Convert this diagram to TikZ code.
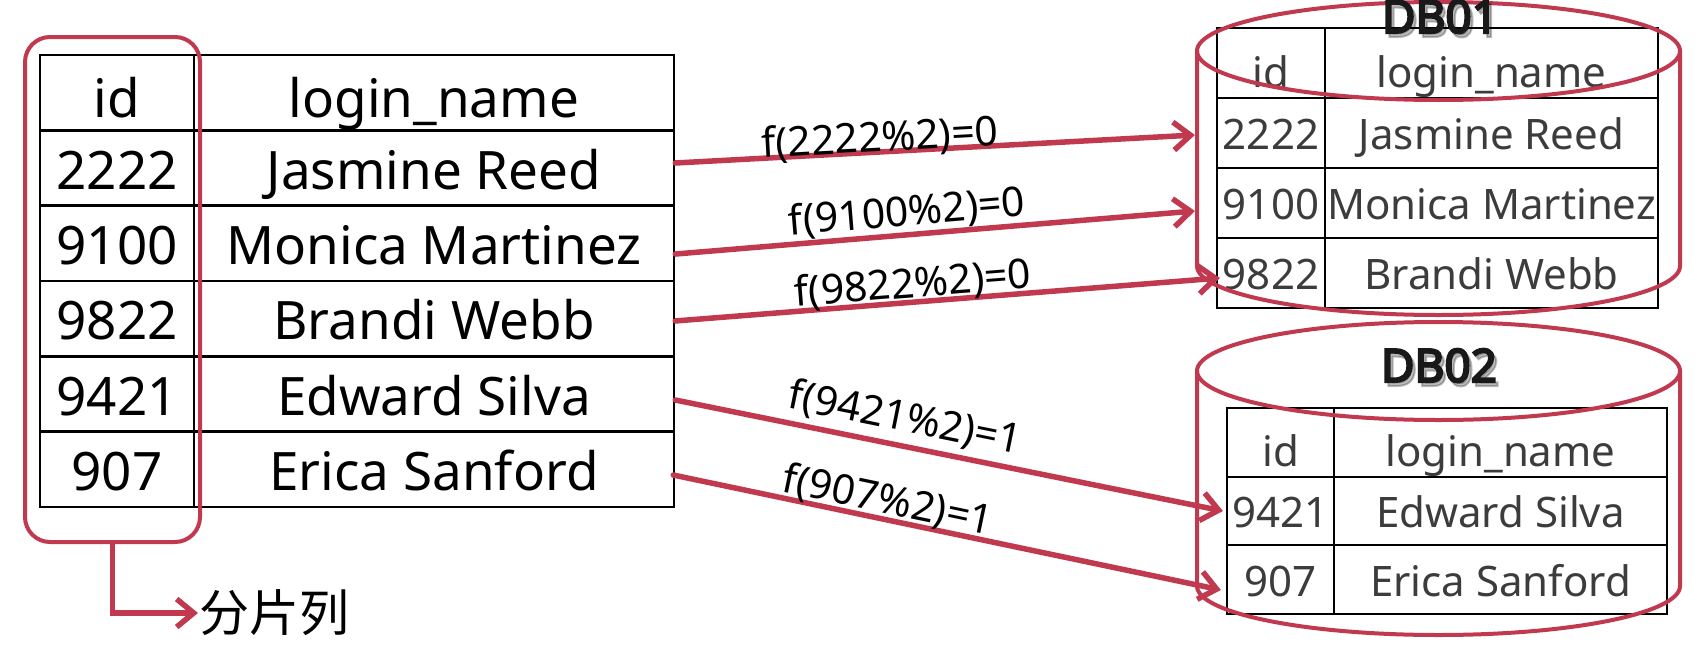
\documentclass[tikz,border=0pt]{standalone}
\usepackage{fontspec}
\setmainfont{Noto Sans}
\newfontfamily\cjk{Noto Sans CJK SC}
\newfontfamily\dbfont{Noto Sans}[FakeBold=4.5]
\usetikzlibrary{arrows.meta}
\definecolor{shardpink}{RGB}{192,57,79}
\definecolor{dbtext}{RGB}{60,60,60}
\begin{document}
\begin{tikzpicture}[x=1pt,y=-1pt,
  tcell/.style={draw=black,line width=2.5pt,inner sep=0pt,text depth=0pt,font=\fontsize{53}{60}\selectfont,minimum height=75.33pt},
  lhead/.style={tcell,text height=50pt},
  lrow/.style={tcell,text height=42pt},
  dcell/.style={draw=black,line width=2.2pt,inner sep=0pt,text depth=0pt,text=dbtext,font=\fontsize{42}{48}\selectfont},
  dhead/.style={dcell,text height=48pt,minimum height=70pt},
  drow/.style={dcell,text height=33pt,minimum height=70pt},
  ehead/.style={dcell,text height=48pt,minimum height=68.67pt},
  erow/.style={dcell,text height=33pt,minimum height=68.67pt},
  pinkline/.style={draw=shardpink,line width=4pt},
  conn/.style={draw=shardpink,line width=5.5pt,line cap=round,-{Straight Barb[length=17pt,width=28pt]}},
  flabel/.style={font=\fontsize{41}{48}\selectfont,inner sep=0pt},
  dbtitle/.style={font=\dbfont\fontsize{46}{52}\selectfont,text=black!90,anchor=base,inner sep=0pt},
  dbshadow/.style={dbtitle,text=black,opacity=0.25},
]
\useasboundingbox (0,0) rectangle (1708,645);
\fill[white] (0,0) rectangle (1708,645);

% left table
\node[lhead,minimum width=154pt] (lid0) at (117,92.67) {id};
\node[lhead,minimum width=480pt] (lnm0) at (434,92.67) {login\_name};
\node[lrow,minimum width=154pt] (lid1) at (117,168) {2222};
\node[lrow,minimum width=480pt] (lnm1) at (434,168) {Jasmine Reed};
\node[lrow,minimum width=154pt] (lid2) at (117,243.33) {9100};
\node[lrow,minimum width=480pt] (lnm2) at (434,243.33) {Monica Martinez};
\node[lrow,minimum width=154pt] (lid3) at (117,318.67) {9822};
\node[lrow,minimum width=480pt] (lnm3) at (434,318.67) {Brandi Webb};
\node[lrow,minimum width=154pt] (lid4) at (117,394) {9421};
\node[lrow,minimum width=480pt] (lnm4) at (434,394) {Edward Silva};
\node[lrow,minimum width=154pt] (lid5) at (117,469.33) {907};
\node[lrow,minimum width=480pt] (lnm5) at (434,469.33) {Erica Sanford};

% shard column frame
\node[pinkline,rounded corners=25pt,minimum width=175pt,minimum height=505pt,inner sep=0pt] (shard) at (112.5,289.5) {};
\node[font=\cjk\fontsize{50}{56}\selectfont,anchor=west,inner sep=1pt] (fpl) at (198,613) {分片列};
\draw[conn] (shard.south) |- (fpl.west);

% DB01 table
\node[dhead,minimum width=108pt] (d1id0) at (1271,63) {id};
\node[dhead,minimum width=333pt] (d1nm0) at (1491.5,63) {login\_name};
\node[drow,minimum width=108pt] (d1id1) at (1271,133) {2222};
\node[drow,minimum width=333pt] (d1nm1) at (1491.5,133) {Jasmine Reed};
\node[drow,minimum width=108pt] (d1id2) at (1271,203) {9100};
\node[drow,minimum width=333pt] (d1nm2) at (1491.5,203) {Monica Martinez};
\node[drow,minimum width=108pt] (d1id3) at (1271,273) {9822};
\node[drow,minimum width=333pt] (d1nm3) at (1491.5,273) {Brandi Webb};

% DB02 table
\node[ehead,minimum width=107pt] (d2id0) at (1280.5,442.33) {id};
\node[ehead,minimum width=333pt] (d2nm0) at (1500.5,442.33) {login\_name};
\node[erow,minimum width=107pt] (d2id1) at (1280.5,511) {9421};
\node[erow,minimum width=333pt] (d2nm1) at (1500.5,511) {Edward Silva};
\node[erow,minimum width=107pt] (d2id2) at (1280.5,579.67) {907};
\node[erow,minimum width=333pt] (d2nm2) at (1500.5,579.67) {Erica Sanford};

% cylinders
\draw[pinkline] (1438.5,51) ellipse [x radius=241.5pt,y radius=49pt];
\draw[pinkline] (1197,51) -- (1197,266) arc[start angle=180,end angle=360,x radius=241.5pt,y radius=49pt] -- (1680,51);
\draw[pinkline] (1438.5,371) ellipse [x radius=241.5pt,y radius=49pt];
\draw[pinkline] (1197,371) -- (1197,586) arc[start angle=180,end angle=360,x radius=241.5pt,y radius=49pt] -- (1680,371);

% DB titles
\node[dbshadow] (db1s) at (1443,37) {DB01};
\node[dbtitle] (db1) at (1440,33) {DB01};
\node[dbshadow] (db2s) at (1442,386) {DB02};
\node[dbtitle] (db2) at (1439,382) {DB02};

% routing arrows
\draw[conn] ([yshift=5pt]lnm1.east) -- ([xshift=-21pt,yshift=-2pt]d1id1.west);
\draw[conn] ([yshift=-10.7pt]lnm2.east) -- ([xshift=-21pt,yshift=-8pt]d1id2.west);
\draw[conn] ([yshift=-2.3pt]lnm3.east) -- ([xshift=4pt,yshift=-5pt]d1id3.west);
\draw[conn] ([yshift=-6pt]lnm4.east) -- ([xshift=-3pt]d2id1.west);
\draw[conn] ([xshift=-2pt,yshift=-5.7pt]lnm5.east) -- ([xshift=-5pt,yshift=-10.3pt]d2id2.west);

% labels
\node[flabel,rotate=3.1] (f1) at (880,139) {f(2222\%2)=0};
\node[flabel,rotate=4.7] (f2) at (907,213) {f(9100\%2)=0};
\node[flabel,rotate=4.5] (f3) at (913,285) {f(9822\%2)=0};
\node[flabel,rotate=-11.4] (f4) at (905,419) {f(9421\%2)=1};
\node[flabel,rotate=-11.8] (f5) at (888,501) {f(907\%2)=1};
\end{tikzpicture}
\end{document}
